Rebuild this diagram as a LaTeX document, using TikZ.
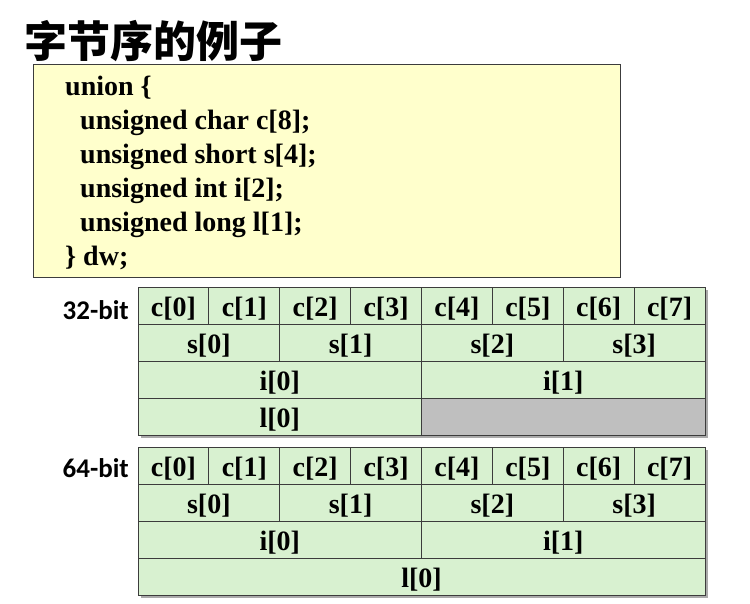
\documentclass[tikz,border=0pt]{standalone}
\usepackage{fontspec}
\setmainfont{Liberation Serif}
\newfontfamily\cjk{Noto Sans CJK SC}
\newfontfamily\lblfont{Carlito}
\definecolor{cellgreen}{RGB}{216,241,208}
\definecolor{cellgray}{RGB}{191,191,191}
\definecolor{codeyellow}{RGB}{255,255,204}
\definecolor{lineclr}{RGB}{60,60,60}
\definecolor{shadowclr}{RGB}{170,170,170}
\tikzset{
  cell/.style={
    draw=lineclr, fill=cellgreen, line width=0.9pt, inner sep=0pt, outer sep=0pt,
    minimum height=37pt, text height=27pt, text depth=5pt,
    font=\fontsize{28}{30}\selectfont\bfseries
  },
  byte cell/.style={cell, minimum width=70.875pt},
  short cell/.style={cell, minimum width=141.75pt},
  int cell/.style={cell, minimum width=283.5pt},
  long cell/.style={cell, minimum width=567pt},
  unused cell/.style={int cell, fill=cellgray},
  code line/.style={anchor=base west, inner sep=0pt, font=\fontsize{28}{34}\selectfont\bfseries},
  arch label/.style={anchor=base east, inner sep=0pt, font=\lblfont\fontsize{27}{30}\selectfont\bfseries}
}
\begin{document}
\begin{tikzpicture}[x=1pt,y=-1pt]
  \useasboundingbox (0,0) rectangle (750,603);

% ------------------------------------------------
% 标题与 union 定义
% ------------------------------------------------
  \node[anchor=west, inner sep=0pt, font=\cjk\bfseries\fontsize{43}{46}\selectfont] (title) at (24,41) {字节序的例子};
  \node[draw=lineclr, fill=codeyellow, line width=0.9pt, minimum width=587pt, minimum height=213pt,
        inner sep=0pt] (codebox) at (326.5,170.5) {};
  \node[code line] (u1) at (65,95)  {union \{};
  \node[code line] (u2) at (80,129) {unsigned char c[8];};
  \node[code line] (u3) at (80,163) {unsigned short s[4];};
  \node[code line] (u4) at (80,197) {unsigned int i[2];};
  \node[code line] (u5) at (80,231) {unsigned long l[1];};
  \node[code line] (u6) at (65,265) {\} dw;};

% ------------------------------------------------
% 32-bit 布局
% ------------------------------------------------
\begin{scope}[shift={(138,287)}]
  \fill[shadowclr] (3,3) rectangle (570,151);
  \node[byte cell] (aC0) at ( 35.44,18.5) {c[0]};
  \node[byte cell] (aC1) at (106.31,18.5) {c[1]};
  \node[byte cell] (aC2) at (177.19,18.5) {c[2]};
  \node[byte cell] (aC3) at (248.06,18.5) {c[3]};
  \node[byte cell] (aC4) at (318.94,18.5) {c[4]};
  \node[byte cell] (aC5) at (389.81,18.5) {c[5]};
  \node[byte cell] (aC6) at (460.69,18.5) {c[6]};
  \node[byte cell] (aC7) at (531.56,18.5) {c[7]};
  \node[short cell] (aS0) at ( 70.875,55.5) {s[0]};
  \node[short cell] (aS1) at (212.625,55.5) {s[1]};
  \node[short cell] (aS2) at (354.375,55.5) {s[2]};
  \node[short cell] (aS3) at (496.125,55.5) {s[3]};
  \node[int cell] (aI0) at (141.75,92.5) {i[0]};
  \node[int cell] (aI1) at (425.25,92.5) {i[1]};
  \node[int cell]    (aL0) at (141.75,129.5) {l[0]};
  \node[unused cell] (aX)  at (425.25,129.5) {};
  \node[arch label] (aLab) at (-9,32) {32-bit};
\end{scope}

% ------------------------------------------------
% 64-bit 布局
% ------------------------------------------------
\begin{scope}[shift={(138,447)}]
  \fill[shadowclr] (3,3) rectangle (570,151);
  \node[byte cell] (bC0) at ( 35.44,18.5) {c[0]};
  \node[byte cell] (bC1) at (106.31,18.5) {c[1]};
  \node[byte cell] (bC2) at (177.19,18.5) {c[2]};
  \node[byte cell] (bC3) at (248.06,18.5) {c[3]};
  \node[byte cell] (bC4) at (318.94,18.5) {c[4]};
  \node[byte cell] (bC5) at (389.81,18.5) {c[5]};
  \node[byte cell] (bC6) at (460.69,18.5) {c[6]};
  \node[byte cell] (bC7) at (531.56,18.5) {c[7]};
  \node[short cell] (bS0) at ( 70.875,55.5) {s[0]};
  \node[short cell] (bS1) at (212.625,55.5) {s[1]};
  \node[short cell] (bS2) at (354.375,55.5) {s[2]};
  \node[short cell] (bS3) at (496.125,55.5) {s[3]};
  \node[int cell] (bI0) at (141.75,92.5) {i[0]};
  \node[int cell] (bI1) at (425.25,92.5) {i[1]};
  \node[long cell] (bL0) at (283.5,129.5) {l[0]};
  \node[arch label] (bLab) at (-9,30) {64-bit};
\end{scope}
\end{tikzpicture}
\end{document}
